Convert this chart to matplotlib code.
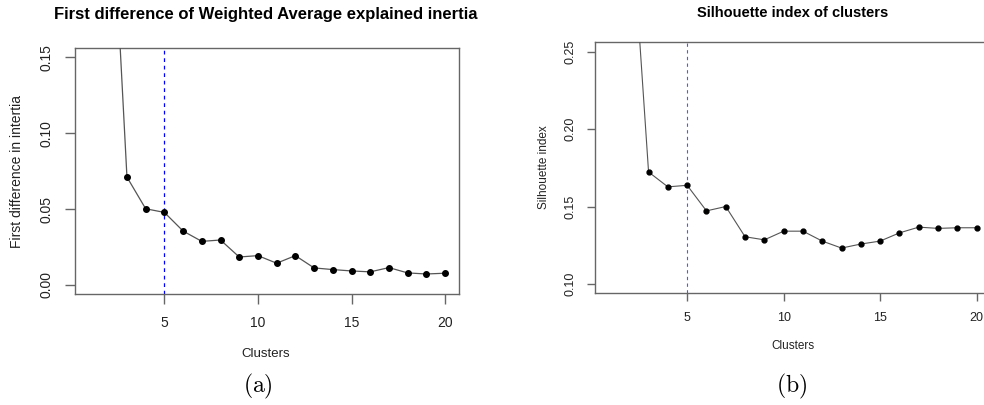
import numpy as np
import matplotlib
matplotlib.use("Agg")
import matplotlib.pyplot as plt

plt.rcParams['font.family'] = ['Liberation Sans', 'DejaVu Sans']
plt.rcParams['mathtext.fontset'] = 'cm'

# cluster counts (k = 1 has no value)
clusters = np.arange(1, 21)

inertia_diff = [np.nan, 0.307, 0.0711, 0.0502, 0.0478, 0.0355, 0.0287, 0.0296, 0.0184, 0.0193,
                0.0143, 0.0193, 0.0112, 0.0101, 0.0092, 0.0086, 0.0114, 0.0079, 0.0072, 0.0077]

silhouette = [np.nan, 0.357, 0.1723, 0.1627, 0.1637, 0.1472, 0.1500, 0.1305, 0.1285, 0.1341,
              0.1341, 0.1277, 0.1232, 0.1258, 0.1277, 0.1330, 0.1367, 0.1359, 0.1363, 0.1363]

chosen_k = 5
xticks = [5, 10, 15, 20]

W, H = 984, 405
fig = plt.figure(figsize=(W / 100, H / 100), dpi=100)


def px_axes(left, top, right, bottom):
    return fig.add_axes([left / W, 1 - bottom / H, (right - left) / W, (bottom - top) / H])


def r_style(ax, ylim, yticks, fs, pad, ticklen):
    xr = 19 * 0.04
    ax.set_xlim(1 - xr, 20 + xr)
    yr = (ylim[1] - ylim[0]) * 0.04
    ax.set_ylim(ylim[0] - yr, ylim[1] + yr)
    ax.set_xticks(xticks)
    ax.set_yticks(yticks)
    ax.set_yticklabels(["%.2f" % v for v in yticks], rotation=90, va='center')
    for s in ax.spines.values():
        s.set_color('#666666')
        s.set_linewidth(1.0)
    ax.tick_params(direction='out', length=ticklen, width=1.0, color='#666666',
                   labelsize=fs, pad=pad, labelcolor='#222222')


# ---- (a) ----
ax1 = px_axes(75.3, 48.3, 459.3, 294)
ax1.plot(clusters, inertia_diff, color='#555555', lw=0.9, marker='o', ms=4,
         mfc='black', mec='black', zorder=3)
ax1.axvline(chosen_k, color='blue', lw=0.9, ls=(0, (3, 3)))
r_style(ax1, (0, 0.15), [0.0, 0.05, 0.10, 0.15], 10, 9, 7)
fig.text(266 / W, 1 - 14 / H, "First difference of Weighted Average explained inertia",
         ha='center', va='center', fontsize=12, fontweight='bold')
fig.text(266 / W, 1 - 354 / H, "Clusters", ha='center', va='center', fontsize=9.5,
         color='#222222')
fig.text(17 / W, 1 - 171 / H, "First difference in intertia", ha='center', va='center',
         rotation=90, fontsize=10, color='#222222')
fig.text(258 / W, 1 - 386 / H, r"$\mathrm{(a)}$", ha='center', va='center', fontsize=17)

# ---- (b) ----
ax2 = px_axes(595.3, 42.3, 991.3, 293.3)
ax2.plot(clusters, silhouette, color='#555555', lw=0.8, marker='o', ms=3.5,
         mfc='black', mec='black', zorder=3)
ax2.axvline(chosen_k, color='#5555ff', lw=0.8, ls=(0, (3, 3)))
r_style(ax2, (0.10, 0.25), [0.10, 0.15, 0.20, 0.25], 9, 7.5, 6)
fig.text(793 / W, 1 - 13 / H, "Silhouette index of clusters",
         ha='center', va='center', fontsize=10.5, fontweight='bold')
fig.text(793 / W, 1 - 346 / H, "Clusters", ha='center', va='center', fontsize=8.5,
         color='#222222')
fig.text(544 / W, 1 - 167 / H, "Silhouette index", ha='center', va='center',
         rotation=90, fontsize=8.5, color='#222222')
fig.text(792 / W, 1 - 386 / H, r"$\mathrm{(b)}$", ha='center', va='center', fontsize=17)

fig.savefig("out.png", dpi=100)
